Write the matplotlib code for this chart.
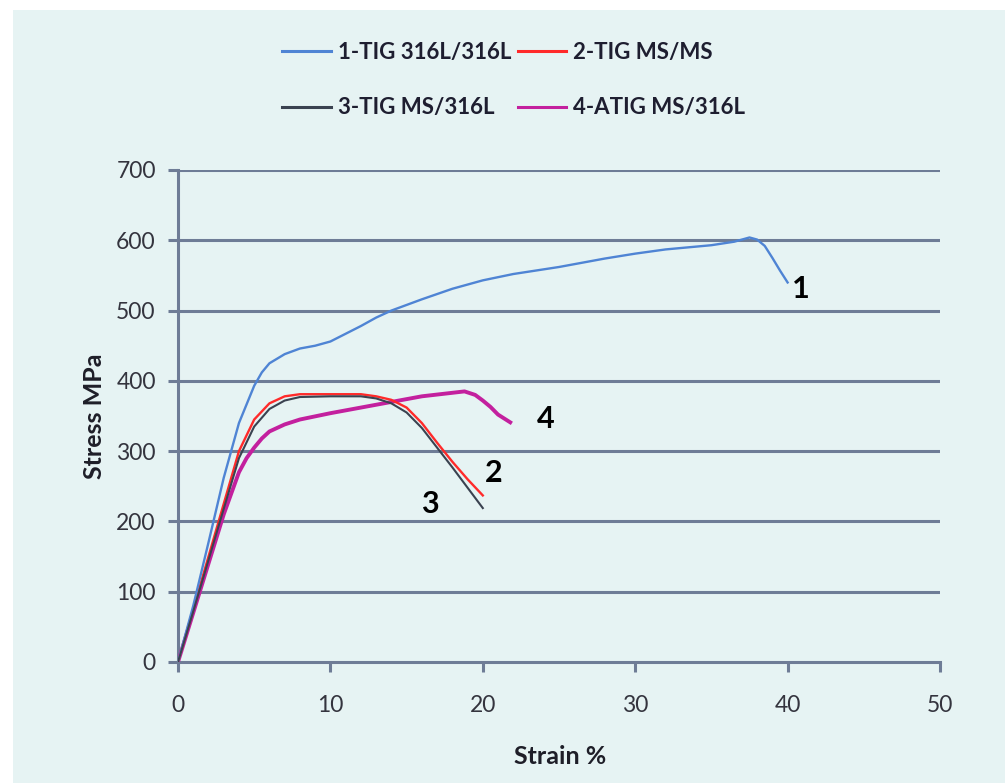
import matplotlib
matplotlib.use("Agg")
import matplotlib.pyplot as plt
from matplotlib.patches import Rectangle

# Tensile test curves: strain (%) vs stress (MPa)
strain_1 = [0, 1, 2, 3, 4, 5, 5.5, 6, 7, 8, 9, 10, 11, 12, 13, 14, 16, 18, 20,
            22, 25, 28, 30, 32, 35, 36.5, 37.5, 38, 38.5, 39, 39.5, 40]
stress_1 = [0, 80, 170, 262, 340, 393, 412, 425, 438, 446, 450, 456, 467, 478,
            490, 500, 516, 531, 543, 552, 562, 574, 581, 587, 593, 598, 604,
            601, 592, 575, 557, 540]

strain_2 = [0, 1, 2, 3, 4, 5, 6, 7, 8, 10, 12, 13, 14, 15, 16, 17, 18, 19, 20]
stress_2 = [0, 75, 150, 225, 300, 345, 368, 378, 381, 381, 381, 378, 373, 362,
            340, 312, 285, 260, 237]

strain_3 = [0, 1, 2, 3, 4, 5, 6, 7, 8, 10, 12, 13, 14, 15, 16, 17, 18, 19, 20]
stress_3 = [0, 72, 145, 218, 290, 335, 360, 372, 377, 378, 378, 375, 368, 355,
            333, 305, 277, 248, 219]

strain_4 = [0, 1, 2, 3, 4, 4.5, 5, 5.5, 6, 7, 8, 10, 12, 14, 16, 18, 18.8,
            19.5, 20, 20.5, 21, 21.8]
stress_4 = [0, 70, 140, 210, 270, 290, 305, 318, 328, 338, 345, 354, 362, 370,
            378, 383, 385, 380, 372, 363, 352, 341]

series_names = ["1-TIG 316L/316L", "2-TIG MS/MS", "3-TIG MS/316L", "4-ATIG MS/316L"]
curve_tags = ["1", "2", "3", "4"]
tag_positions = [(40.9, 518), (20.7, 256), (16.5, 212), (24.15, 333)]

y_ticks = [0, 100, 200, 300, 400, 500, 600, 700]
x_ticks = [0, 10, 20, 30, 40, 50]

plt.rcParams["font.family"] = ["Lato", "DejaVu Sans"]

bg = "#E6F3F3"
axis_col = "#6E7C96"
text_col = "#34343E"

fig = plt.figure(figsize=(10.05, 7.83), dpi=100, facecolor="white")
panel = Rectangle((13 / 1005, 0), 1 - 13 / 1005, 1 - 10 / 783,
                  transform=fig.transFigure, facecolor=bg,
                  edgecolor="none", zorder=-10)
fig.patches.append(panel)

ax = fig.add_axes([178 / 1005, 1 - 662 / 783, (940 - 178) / 1005, (662 - 170) / 783])
ax.set_facecolor("none")

l1, = ax.plot(strain_1, stress_1, color="#4F84D4", lw=1.7, label=series_names[0], zorder=5)
l2, = ax.plot(strain_2, stress_2, color="#FF2A2A", lw=1.7, label=series_names[1], zorder=4)
l3, = ax.plot(strain_3, stress_3, color="#3A4250", lw=1.5, label=series_names[2], zorder=5)
l4, = ax.plot(strain_4, stress_4, color="#C3209E", lw=2.8, label=series_names[3], zorder=3)

ax.set_xlim(0, 50)
ax.set_ylim(0, 700)
ax.set_xticks(x_ticks)
ax.set_yticks(y_ticks)

for yv in y_ticks[1:]:
    ax.axhline(yv, color=axis_col, lw=2.2, zorder=1)

for side in ("top", "right"):
    ax.spines[side].set_visible(False)
for side in ("left", "bottom"):
    ax.spines[side].set_color(axis_col)
    ax.spines[side].set_linewidth(2.2)

ax.tick_params(axis="y", length=7, width=2.2, color=axis_col, pad=9,
               labelsize=16.5, labelcolor=text_col)
ax.tick_params(axis="x", length=7, width=2.2, color=axis_col, pad=17,
               labelsize=16.5, labelcolor=text_col)

for tag, (tx, ty) in zip(curve_tags, tag_positions):
    ax.text(tx, ty, tag, fontsize=22, fontweight="bold", color="black",
            ha="center", va="baseline", zorder=6)

fig.text(94 / 1005, 1 - 416 / 783, "Stress MPa", rotation=90, ha="center",
         va="center", fontsize=18, fontweight="bold", color="#1E1E28")
fig.text(560 / 1005, 1 - 756 / 783, "Strain %", ha="center", va="center",
         fontsize=18, fontweight="bold", color="#1E1E28")

leg = fig.legend([l1, l3, l2, l4], [series_names[0], series_names[2],
                                    series_names[1], series_names[3]],
                 ncol=2, frameon=False, loc="upper left",
                 bbox_to_anchor=(262 / 1005, 1 - 22 / 783),
                 handlelength=2.2, handletextpad=0.3,
                 columnspacing=0.3, labelspacing=1.55,
                 prop={"weight": "bold", "size": 16})
for t in leg.get_texts():
    t.set_color("#1E1E30")
for h in leg.legend_handles:
    h.set_linewidth(2.2)

fig.savefig("out.png", dpi=100, facecolor=fig.get_facecolor())
